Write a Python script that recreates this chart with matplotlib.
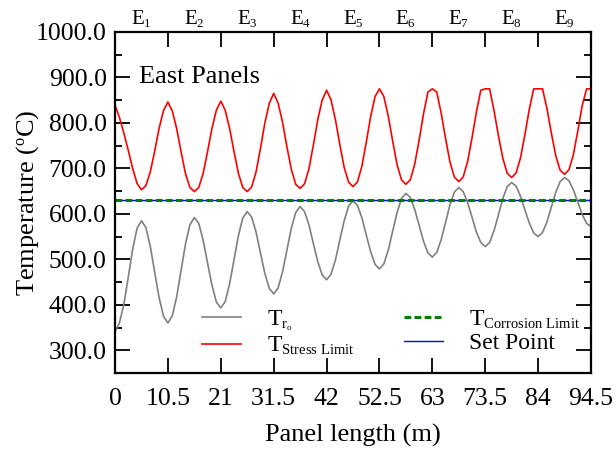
import numpy as np
import matplotlib
matplotlib.use("Agg")
import matplotlib.pyplot as plt
import matplotlib._mathtext as mt
from matplotlib.ticker import MultipleLocator, FormatStrFormatter, FixedLocator

plt.rcParams['font.family'] = 'Liberation Serif'
plt.rcParams['mathtext.fontset'] = 'custom'
plt.rcParams['mathtext.rm'] = 'Liberation Serif'
plt.rcParams['mathtext.it'] = 'Liberation Serif:italic'
# smaller subscripts, like the original figure
mt.SHRINK_FACTOR = 0.62

# panel length samples (m), every 0.875 m
step = 0.875
n_pts = 109

# outer tube temperature T_ro
t_ro = [340, 360, 401, 460, 522, 568, 585,
        570, 529, 472, 416, 375, 360,
        376, 418, 476, 534, 576, 592,
        579, 542, 492, 443, 406, 393,
        407, 446, 499, 552, 591, 605,
        593, 560, 514, 469, 436, 424,
        437, 472, 520, 568, 603, 616,
        605, 576, 535, 495, 466, 455,
        467, 498, 542, 585, 617, 629,
        619, 592, 554, 517, 489, 479,
        490, 520, 562, 603, 634, 645,
        636, 610, 575, 540, 514, 505,
        515, 543, 581, 620, 648, 658,
        649, 625, 593, 560, 537, 528,
        537, 563, 598, 634, 660, 669,
        661, 639, 609, 580, 558, 550,
        559, 582, 615, 647, 671, 680,
        673, 653, 626, 599, 579, 572]

# stress limit temperature
t_stress = [839, 812, 778, 740, 700, 667, 653,
            662, 692, 738, 788, 827, 846,
            826, 787, 736, 688, 658, 649,
            658, 689, 737, 788, 828, 848,
            828, 788, 737, 689, 658, 649,
            659, 692, 744, 800, 843, 865,
            844, 802, 748, 698, 665, 656,
            666, 699, 751, 807, 850, 872,
            851, 808, 753, 702, 670, 660,
            670, 704, 757, 814, 858, 875,
            858, 815, 760, 708, 675, 665,
            675, 709, 762, 820, 868, 875,
            868, 822, 766, 714, 681, 671,
            681, 715, 767, 824, 872, 875,
            875, 827, 772, 722, 689, 680,
            690, 723, 774, 830, 875, 875,
            875, 832, 778, 728, 696, 687,
            697, 730, 782, 838, 875, 875]

t_corrosion = 630
t_setpoint = 630

x_ticks = [0, 10.5, 21, 31.5, 42, 52.5, 63, 73.5, 84, 94.5]
x_tick_labels = ['0', '10.5', '21', '31.5', '42', '52.5', '63', '73.5', '84', '94.5']
e_labels = ['E$_1$', 'E$_2$', 'E$_3$', 'E$_4$', 'E$_5$', 'E$_6$', 'E$_7$', 'E$_8$', 'E$_9$']

x = np.arange(n_pts) * step

fig = plt.figure(figsize=(6.16, 4.5), dpi=100)
ax = fig.add_axes([0.1867, 0.1711, 0.7727, 0.7578])

l4 = ax.axhline(t_setpoint, color='#0000ff', lw=1.0)
l1, = ax.plot(x, t_ro, color='#808080', lw=1.2)
l2, = ax.plot(x, t_stress, color='#ff0000', lw=1.2)
l3 = ax.axhline(t_corrosion, color='#008000', lw=2.2, dashes=(2.2, 1.1))

ax.set_xlim(0, 94.5)
ax.set_ylim(250, 1000)
ax.xaxis.set_major_locator(FixedLocator(x_ticks))
ax.set_xticklabels(x_tick_labels)
ax.yaxis.set_major_locator(MultipleLocator(100))
ax.yaxis.set_minor_locator(MultipleLocator(50))
ax.yaxis.set_major_formatter(FormatStrFormatter('%.1f'))
ax.tick_params(which='both', direction='in', top=True, right=True, width=1.3)
ax.tick_params(which='major', length=11)
ax.tick_params(which='minor', length=5)
ax.tick_params(axis='y', labelsize=18.5, pad=6)
ax.tick_params(axis='x', labelsize=18.5, pad=11)
for s in ax.spines.values():
    s.set_linewidth(1.6)

ax.set_xlabel('Panel length (m)', fontsize=19, labelpad=10)
ax.set_ylabel('Temperature ($^\\mathrm{o}$C)', fontsize=19, labelpad=-4)

for i, lab in enumerate(e_labels):
    ax.text(5.25 + 10.5 * i, 1.008, lab, transform=ax.get_xaxis_transform(),
            ha='center', va='bottom', fontsize=15)

ax.text(0.05, 0.85, 'East Panels', transform=ax.transAxes, fontsize=19,
        ha='left', va='baseline')

handles = [l1, l2, l3, l4]
labels = ['T$_{\\mathrm{r}_\\mathrm{o}}$', 'T$_{\\mathrm{Stress\\ Limit}}$',
          'T$_{\\mathrm{Corrosion\\ Limit}}$', 'Set Point']
ax.legend(handles, labels, ncol=2, frameon=False, fontsize=17,
          loc='upper left', bbox_to_anchor=(0.183, 0.19),
          handlelength=1.65, handletextpad=1.1, columnspacing=2.1,
          labelspacing=0.1, borderaxespad=0, borderpad=0)

fig.savefig('out.png', dpi=100)
